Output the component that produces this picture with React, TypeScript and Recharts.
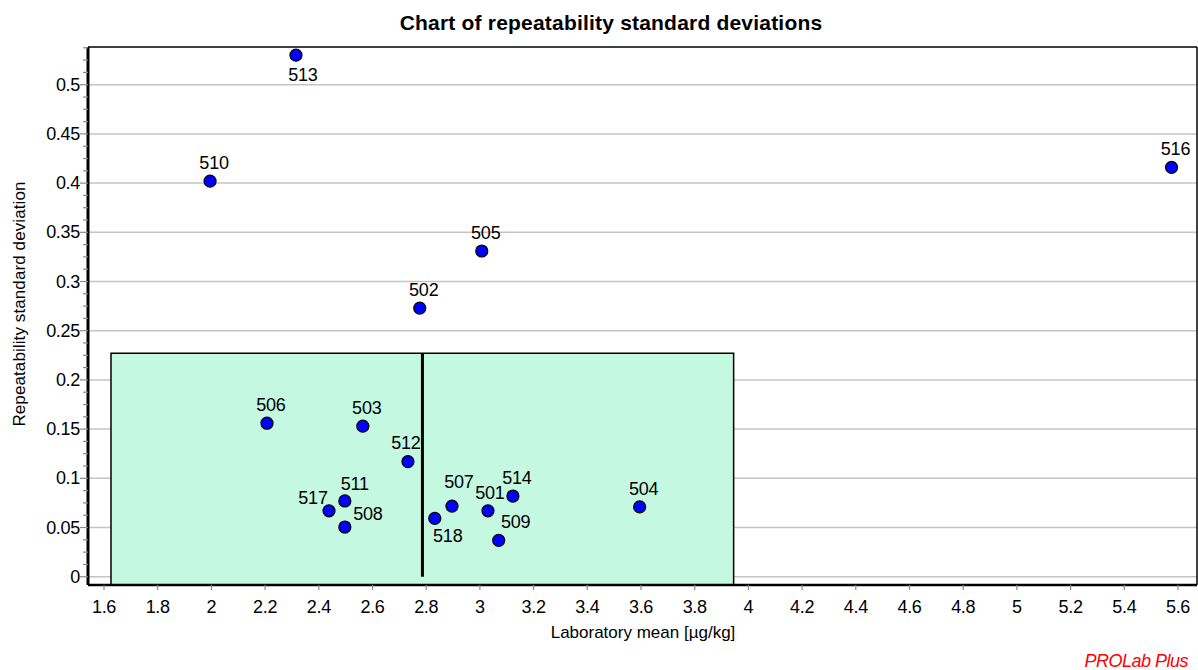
import React from 'react';
import {
  CartesianGrid,
  ReferenceArea,
  ReferenceLine,
  Scatter,
  ScatterChart,
  XAxis,
  YAxis,
} from 'recharts';

// laboratory results
const labIds = ['513', '510', '516', '505', '502', '506', '503', '512', '511', '517', '508', '518', '507', '501', '514', '509', '504'];
const labMeans = [2.315, 1.995, 5.576, 3.007, 2.776, 2.207, 2.564, 2.732, 2.497, 2.438, 2.497, 2.832, 2.896, 3.03, 3.123, 3.07, 3.595];
const labSds = [0.53, 0.402, 0.416, 0.331, 0.273, 0.156, 0.153, 0.117, 0.077, 0.067, 0.0505, 0.0593, 0.0718, 0.067, 0.082, 0.037, 0.071];

// acceptance box and median
const boxX = [1.626, 3.945];
const boxTop = 0.227;
const medianMean = 2.786;

// axis ticks
const xTickLabels = ['1.6', '1.8', '2', '2.2', '2.4', '2.6', '2.8', '3', '3.2', '3.4', '3.6', '3.8', '4', '4.2', '4.4', '4.6', '4.8', '5', '5.2', '5.4', '5.6'];
const yTickLabels = ['0', '0.05', '0.1', '0.15', '0.2', '0.25', '0.3', '0.35', '0.4', '0.45', '0.5'];

const X_MIN = 1.5404;
const X_MAX = 5.6708;
const Y_MIN = -0.0084;
const Y_MAX = 0.5383;

// label offset from point centre [dx, baseline dy]
const labelOffset: Record<string, [number, number]> = {
  '513': [7, 26],
  '517': [-16, -7],
  '508': [23, -7],
  '511': [10, -11],
  '518': [13, 24],
  '507': [7, -18],
  '509': [17, -12],
  '512': [-2, -13],
  '501': [2, -12],
};

const FONT = '"Liberation Sans", Arial, sans-serif';

const data = labIds.map((id, i) => ({ id, mean: labMeans[i], sd: labSds[i] }));
const xTicks = xTickLabels.map(Number);
const yMajor = yTickLabels.map(Number);
const yTicks: number[] = [];
yMajor.forEach(v => {
  for (let k = 0; k < 4; k++) {
    const t = +(v + k * 0.0125).toFixed(4);
    if (t <= Y_MAX) yTicks.push(t);
  }
});

function YTick(props: any) {
  const { x, y, payload } = props;
  const v = payload.value as number;
  const major = Math.abs(v / 0.05 - Math.round(v / 0.05)) < 1e-6;
  return (
    <g>
      <line x1={x - (major ? 8 : 5)} x2={x} y1={y} y2={y} stroke="#8a8a8a" strokeWidth={1.2} />
      {major && (
        <text x={x - 8} y={y + 6} textAnchor="end" fontSize={18} fontFamily={FONT} fill="#000" letterSpacing={-0.3}>
          {String(v)}
        </text>
      )}
    </g>
  );
}

function XTick(props: any) {
  const { x, y, payload } = props;
  return (
    <g>
      <line x1={x} x2={x} y1={y} y2={y + 5} stroke="#8a8a8a" strokeWidth={1.2} />
      <text x={x} y={y + 28} textAnchor="middle" fontSize={18} fontFamily={FONT} fill="#000" letterSpacing={-0.3}>
        {String(payload.value)}
      </text>
    </g>
  );
}

function LabPoint(props: any) {
  const { cx, cy, payload } = props;
  if (cx == null || cy == null) return null;
  const [dx, dy] = labelOffset[payload.id] ?? [4, -12];
  return (
    <g>
      <circle cx={cx} cy={cy} r={6} fill="#0000ff" stroke="#000" strokeWidth={1.2} />
      <text x={cx + dx} y={cy + dy} textAnchor="middle" fontSize={18} fontFamily={FONT} fill="#000" letterSpacing={-0.2}>
        {payload.id}
      </text>
    </g>
  );
}

export default function App() {
  return (
    <div style={{ position: 'absolute', left: 0, top: 0, width: 1198, height: 670, background: '#fff' }}>
      <ScatterChart width={1198} height={670} margin={{ top: 47, right: 1, bottom: 0, left: 0 }}>
        <CartesianGrid horizontalValues={yMajor} vertical={false} stroke="#c4c4c4" strokeWidth={1.5} />
        <XAxis
          type="number"
          dataKey="mean"
          domain={[X_MIN, X_MAX]}
          ticks={xTicks}
          allowDataOverflow
          height={85}
          tickSize={0}
          tickMargin={0}
          tick={<XTick />}
          interval={0}
          stroke="#000"
          strokeWidth={2.5}
        />
        <YAxis
          type="number"
          dataKey="sd"
          domain={[Y_MIN, Y_MAX]}
          ticks={yTicks}
          allowDataOverflow
          width={88}
          tickSize={0}
          tickMargin={0}
          tick={<YTick />}
          interval={0}
          stroke="#000"
          strokeWidth={3}
        />
        <ReferenceArea
          x1={boxX[0]}
          x2={boxX[1]}
          y1={Y_MIN}
          y2={boxTop}
          fill="#c4f8e0"
          fillOpacity={1}
          stroke="#000"
          strokeWidth={1.5}
        />
        <ReferenceLine
          segment={[{ x: medianMean, y: 0 }, { x: medianMean, y: boxTop }]}
          stroke="#000"
          strokeWidth={3}
        />
        <ReferenceLine y={Y_MAX} stroke="#000" strokeWidth={1.5} />
        <ReferenceLine x={X_MAX} stroke="#000" strokeWidth={1.5} />
        <Scatter data={data} shape={<LabPoint />} isAnimationActive={false} />
      </ScatterChart>
      <svg width={1198} height={670} style={{ position: 'absolute', left: 0, top: 0, pointerEvents: 'none' }}>
        <text x={611} y={30} textAnchor="middle" fontSize={21} fontWeight="bold" fontFamily={FONT} letterSpacing={0.2}>
          Chart of repeatability standard deviations
        </text>
        <text
          x={25}
          y={304}
          transform="rotate(-90 25 304)"
          textAnchor="middle"
          fontSize={17}
          fontFamily={FONT}
          letterSpacing={0.1}
        >
          Repeatability standard deviation
        </text>
        <text x={643} y={638} textAnchor="middle" fontSize={17} fontFamily={FONT}>
          Laboratory mean [µg/kg]
        </text>
        <text x={1188} y={667} textAnchor="end" fontSize={18} fontStyle="italic" fontFamily={FONT} fill="#ff0000" letterSpacing={-0.5}>
          PROLab Plus
        </text>
      </svg>
    </div>
  );
}
